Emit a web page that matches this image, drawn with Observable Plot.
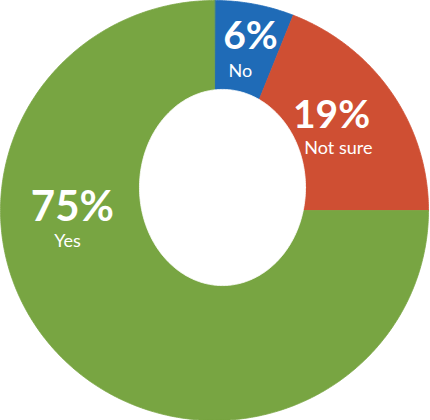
<!DOCTYPE html>
<html>
<head>
<meta charset="utf-8">
<script src="https://cdn.jsdelivr.net/npm/d3@7"></script>
<script src="https://cdn.jsdelivr.net/npm/@observablehq/plot@0.6"></script>
<style>
  html, body { margin: 0; padding: 0; background: #fff; }
</style>
</head>
<body>
<div id="chart"></div>
<script>
// ---- data ----
const categories = ["No", "Not sure", "Yes"];
const shares = [6, 19, 75];
const pctLabels = ["6%", "19%", "75%"];

// ---- styles / layout ----
const colors = ["#1f6bb7", "#cf4f33", "#78a542"];
// label anchors in chart units (x,y in [-1,1], y up)
const labelAt = {
  "No":       {pct: [0.168, 0.771], name: [0.121, 0.638]},
  "Not sure": {pct: [0.547, 0.395], name: [0.579, 0.267]},
  "Yes":      {pct: [-0.664, -0.052], name: [-0.687, -0.176]}
};
// hole (offset ellipse) in chart units
const hole = {cx: 0.0374, cy: 0.1095, rx: 0.388, ry: 0.467};

// ---- build slice polygons from data ----
const total = d3.sum(shares);
const ends = Array.from(d3.cumsum(shares));
const slicePts = [];
categories.forEach((c, i) => {
  const a0 = ((ends[i] - shares[i]) / total) * 2 * Math.PI;
  const a1 = (ends[i] / total) * 2 * Math.PI;
  const n = Math.max(2, Math.ceil((a1 - a0) / (Math.PI / 360)) + 1);
  slicePts.push({label: c, x: 0, y: 0});
  for (let k = 0; k < n; k++) {
    const a = a0 + (a1 - a0) * k / (n - 1);
    slicePts.push({label: c, x: Math.sin(a), y: Math.cos(a)});
  }
});
const holePts = d3.range(0, 361, 1).map(t => {
  const a = t * Math.PI / 180;
  return {x: hole.cx + hole.rx * Math.cos(a), y: hole.cy + hole.ry * Math.sin(a)};
});

const labels = categories.map((c, i) => ({label: c, pct: pctLabels[i],
  px: labelAt[c].pct[0], py: labelAt[c].pct[1],
  nx: labelAt[c].name[0], ny: labelAt[c].name[1]}));

const chart = Plot.plot({
  width: 430,
  height: 420,
  marginTop: 0, marginBottom: 0, marginLeft: 0, marginRight: 2,
  x: {domain: [-1, 1], axis: null},
  y: {domain: [-1, 1], axis: null},
  color: {type: "ordinal", domain: categories, range: colors},
  style: {fontFamily: "Lato, 'Open Sans', sans-serif", background: "#fff"},
  marks: [
    Plot.line(slicePts, {x: "x", y: "y", z: "label", fill: "label", stroke: "label", strokeWidth: 0.8, curve: "linear-closed"}),
    Plot.line(holePts, {x: "x", y: "y", fill: "white", stroke: "white", strokeWidth: 0.8, curve: "linear-closed"}),
    Plot.text(labels, {x: "px", y: "py", text: "pct", fill: "white", fontSize: d => d.label === "Yes" ? 42 : 39, fontWeight: "bold", lineAnchor: "bottom"}),
    Plot.text(labels, {x: "nx", y: "ny", text: "label", fill: "white", fontSize: 18, lineAnchor: "bottom"})
  ]
});
document.getElementById("chart").appendChild(chart);
</script>
</body>
</html>
